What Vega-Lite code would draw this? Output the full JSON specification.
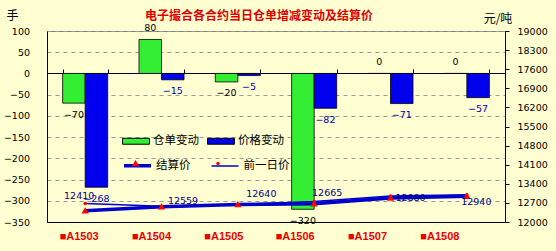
{
  "$schema": "https://vega.github.io/schema/vega-lite/v6.json",
  "width": 458,
  "height": 191,
  "autosize": {"type": "none"},
  "padding": {"left": 47, "top": 31, "right": 51, "bottom": 29},
  "background": "#ffffd2",
  "title": {
    "text": "电子撮合各合约当日仓单增减变动及结算价",
    "font": "Noto Sans CJK SC",
    "fontSize": 12,
    "fontWeight": "bold",
    "color": "#e00000",
    "anchor": "middle",
    "frame": "group",
    "dx": -17,
    "offset": -14
  },
  "datasets": {
    "bars": [
      {"cat": "A1503", "series": "仓单变动", "value": -70},
      {"cat": "A1503", "series": "价格变动", "value": -268},
      {"cat": "A1504", "series": "仓单变动", "value": 80},
      {"cat": "A1504", "series": "价格变动", "value": -15},
      {"cat": "A1505", "series": "仓单变动", "value": -20},
      {"cat": "A1505", "series": "价格变动", "value": -5},
      {"cat": "A1506", "series": "仓单变动", "value": -320},
      {"cat": "A1506", "series": "价格变动", "value": -82},
      {"cat": "A1507", "series": "仓单变动", "value": 0},
      {"cat": "A1507", "series": "价格变动", "value": -71},
      {"cat": "A1508", "series": "仓单变动", "value": 0},
      {"cat": "A1508", "series": "价格变动", "value": -57}
    ],
    "lines": [
      {"cat": "A1503", "line": "结算价", "price": 12410},
      {"cat": "A1504", "line": "结算价", "price": 12559},
      {"cat": "A1505", "line": "结算价", "price": 12640},
      {"cat": "A1506", "line": "结算价", "price": 12665},
      {"cat": "A1507", "line": "结算价", "price": 12880},
      {"cat": "A1508", "line": "结算价", "price": 12940},
      {"cat": "A1503", "line": "前一日价", "price": 12678},
      {"cat": "A1504", "line": "前一日价", "price": 12574},
      {"cat": "A1505", "line": "前一日价", "price": 12645},
      {"cat": "A1506", "line": "前一日价", "price": 12747},
      {"cat": "A1507", "line": "前一日价", "price": 12951},
      {"cat": "A1508", "line": "前一日价", "price": 12997}
    ]
  },
  "layer": [
    {
      "data": {"name": "bars"},
      "layer": [
        {
          "mark": {"type": "bar", "stroke": "#000000", "strokeWidth": 0.8},
          "encoding": {
            "x": {
              "field": "cat", "type": "nominal",
              "scale": {"paddingInner": 0.41, "paddingOuter": 0.205},
              "axis": {
                "orient": "top", "offset": -42, "title": null, "labels": false,
                "ticks": true, "tickBand": "extent", "tickSize": 4, "tickColor": "#000000",
                "domainColor": "#000000", "domainWidth": 1, "grid": false
              }
            },
            "xOffset": {"field": "series", "type": "nominal", "sort": ["仓单变动", "价格变动"]},
            "y": {
              "field": "value", "type": "quantitative",
              "scale": {"domain": [-350, 100], "nice": false, "zero": false},
              "axis": {
                "orient": "left",
                "values": [-350, -300, -250, -200, -150, -100, -50, 0, 50, 100],
                "tickCount": 30,
                "format": "d", "labelOverlap": false, "labelFlush": false, "labelBound": false,
                "title": "手", "titleAngle": 0, "titleX": -35, "titleY": -16,
                "titleAlign": "center", "titleBaseline": "middle",
                "titleFont": "Noto Sans CJK SC", "titleFontSize": 12, "titleFontWeight": "normal", "titleColor": "#000000",
                "labelFont": "DejaVu Sans", "labelFontSize": 9.5, "labelColor": "#000000",
                "ticks": false, "labelPadding": 17.5,
                "domainColor": "#000000", "domainWidth": 1,
                "grid": true, "gridDash": [4, 4], "gridColor": "#9a9a9a", "gridWidth": 1
              }
            },
            "color": {
              "field": "series", "type": "nominal",
              "scale": {"domain": ["仓单变动", "价格变动"], "range": ["#33ee33", "#0000ee"]},
              "legend": {
                "orient": "none", "legendX": 75, "legendY": 96,
                "direction": "horizontal", "columns": 2, "title": null,
                "symbolType": "M-1,-0.22H1V0.22H-1Z", "symbolSize": 729,
                "symbolStrokeColor": "#000000", "symbolStrokeWidth": 1,
                "labelFont": "Noto Sans CJK SC", "labelFontSize": 11.5, "labelColor": "#000000",
                "labelOffset": 3, "columnPadding": 6, "rowPadding": 0, "padding": 0
              }
            }
          }
        },
        {
          "mark": {
            "type": "text", "font": "DejaVu Sans", "fontSize": 9.5, "baseline": "middle", "align": "center",
            "dy": {"expr": "datum.value >= 0 ? -11.5 : 11.5"},
            "color": {"expr": "datum.series === '价格变动' ? '#0000aa' : '#000000'"}
          },
          "encoding": {
            "x": {"field": "cat", "type": "nominal"},
            "xOffset": {"field": "series", "type": "nominal", "sort": ["仓单变动", "价格变动"]},
            "y": {"field": "value", "type": "quantitative"},
            "text": {"field": "value", "type": "quantitative", "format": "d"}
          }
        }
      ]
    },
    {
      "data": {"name": "lines"},
      "layer": [
        {
          "mark": {"type": "line"},
          "encoding": {
            "x": {
              "field": "cat", "type": "nominal",
              "axis": {
                "orient": "bottom", "title": null, "ticks": false,
                "domainColor": "#000000", "domainWidth": 1, "grid": false,
                "labelExpr": "'■' + datum.label",
                "labelColor": "#ee0000", "labelFont": "Liberation Sans", "labelFontWeight": "bold",
                "labelFontSize": 11, "labelPadding": 8, "labelAngle": 0, "labelBaseline": "top",
                "labelOffset": {
                  "condition": [
                    {"test": "datum.value === 'A1503'", "value": -6},
                    {"test": "datum.value === 'A1504'", "value": -10},
                    {"test": "datum.value === 'A1505'", "value": -14},
                    {"test": "datum.value === 'A1506'", "value": -19},
                    {"test": "datum.value === 'A1507'", "value": -23}
                  ],
                  "value": -27
                }
              }
            },
            "y": {
              "field": "price", "type": "quantitative",
              "scale": {"domain": [12000, 19000], "nice": false, "zero": false},
              "axis": {
                "orient": "right",
                "values": [12000, 12700, 13400, 14100, 14800, 15500, 16200, 16900, 17600, 18300, 19000],
                "tickCount": 30,
                "format": "d", "labelOverlap": false, "labelFlush": false, "labelBound": false,
                "title": "元/吨", "titleAngle": 0, "titleX": -7.5, "titleY": -13,
                "titleAlign": "center", "titleBaseline": "middle",
                "titleFont": "Noto Sans CJK SC", "titleFontSize": 12, "titleFontWeight": "normal", "titleColor": "#000000",
                "labelFont": "DejaVu Sans", "labelFontSize": 9.5, "labelColor": "#000000",
                "tickColor": "#000000", "tickSize": 4, "labelPadding": 8,
                "domainColor": "#000000", "domainWidth": 1, "grid": false
              }
            },
            "stroke": {
              "field": "line", "type": "nominal",
              "scale": {"domain": ["结算价", "前一日价"], "range": ["#0000cc", "#0000cc"]},
              "legend": {
                "orient": "none", "legendX": 75, "legendY": 119,
                "direction": "horizontal", "columns": 2, "title": null,
                "symbolType": "stroke", "symbolSize": 729,
                "labelFont": "Noto Sans CJK SC", "labelFontSize": 11.5, "labelColor": "#000000",
                "labelOffset": 3, "columnPadding": 17.5, "rowPadding": 0, "padding": 0
              }
            },
            "strokeWidth": {
              "field": "line", "type": "nominal",
              "scale": {"domain": ["结算价", "前一日价"], "range": [3.5, 1.5]}
            }
          }
        },
        {
          "mark": {"type": "point", "filled": true, "color": "#ff0000", "size": 729, "opacity": 1, "strokeWidth": 0},
          "encoding": {
            "x": {"field": "cat", "type": "nominal"},
            "y": {"field": "price", "type": "quantitative"},
            "shape": {
              "field": "line", "type": "nominal", "sort": null,
              "scale": {"range": ["M0,-0.26L0.27,0.2L-0.27,0.2Z", "M0.13,0A0.13,0.13,0,1,1,-0.13,0A0.13,0.13,0,1,1,0.13,0Z"]},
              "legend": {
                "orient": "none", "legendX": 75, "legendY": 119,
                "direction": "horizontal", "columns": 2, "title": null,
                "symbolSize": 729, "symbolFillColor": "#ff0000", "symbolStrokeWidth": 0,
                "labelFont": "Noto Sans CJK SC", "labelFontSize": 11.5, "labelOpacity": 0,
                "labelOffset": 3, "columnPadding": 17.5, "rowPadding": 0, "padding": 0
              }
            }
          }
        },
        {
          "transform": [{"filter": "datum.line === '结算价'"}],
          "mark": {
            "type": "text", "font": "DejaVu Sans", "fontSize": 9.5, "color": "#000080",
            "baseline": "middle", "align": "center",
            "dx": {"expr": "datum.cat === 'A1503' ? -6 : datum.cat === 'A1504' ? 21.5 : datum.cat === 'A1505' ? 23.5 : datum.cat === 'A1506' ? 13 : datum.cat === 'A1507' ? 20 : 9.5"},
            "dy": {"expr": "datum.cat === 'A1503' ? -15 : datum.cat === 'A1504' ? -5.5 : datum.cat === 'A1505' ? -10.5 : datum.cat === 'A1506' ? -11 : datum.cat === 'A1507' ? 0 : 5.5"}
          },
          "encoding": {
            "x": {"field": "cat", "type": "nominal"},
            "y": {"field": "price", "type": "quantitative"},
            "text": {"field": "price", "type": "quantitative", "format": "d"}
          }
        }
      ]
    }
  ],
  "resolve": {"scale": {"y": "independent"}, "axis": {"x": "independent"}},
  "config": {
    "view": {"stroke": "#808080", "strokeWidth": 1}
  }
}
